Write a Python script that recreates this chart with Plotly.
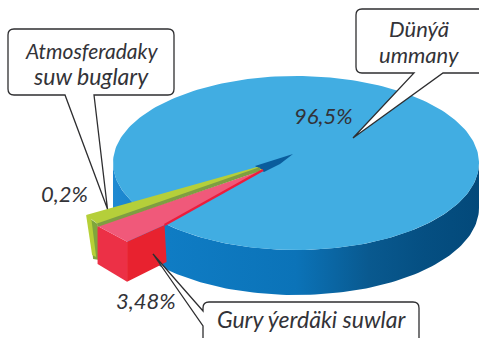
import math
import plotly.graph_objects as go

# ---- data ----
category_labels = ["Dünýä ummany", "Gury ýerdäki suwlar", "Atmosferadaky suw buglary"]
shares = [96.5, 3.48, 0.2]
share_labels = ["96,5%", "3,48%", "0,2%"]

# ---- pie projection / styling ----
W, H = 479, 338
CX, CY, RX, RY, DEPTH = 296, 163, 183, 87, 45
SLICE_END_DEG = 135          # where the ocean slice ends
RED_APEX = (263, 170)
GREEN_APEX = (257, 167)
RED_END_DEG = 132
PIECE_R = 1.11
PIECE_DEPTH = 40
MIN_SLICE_DEG = 6.4
FONT = "Lato"
TXT = "#333338"


def pt(c, deg, r=1.0, dy=0):
    a = math.radians(deg)
    return (c[0] + r * RX * math.cos(a), c[1] + r * RY * math.sin(a) + dy)


def arc(c, d0, d1, n=120, r=1.0, dy=0):
    return [pt(c, d0 + (d1 - d0) * i / n, r, dy) for i in range(n + 1)]


def poly(points, color, name, **kw):
    xs = [p[0] for p in points] + [points[0][0]]
    ys = [p[1] for p in points] + [points[0][1]]
    return go.Scatter(x=xs, y=ys, mode="lines", fill="toself", fillcolor=color,
                      line=dict(width=0, color=color), name=name, hoverinfo="name", **kw)


def seg(a, b, color, width, name):
    return go.Scatter(x=[a[0], b[0]], y=[a[1], b[1]], mode="lines",
                      line=dict(color=color, width=width), name=name, hoverinfo="skip")


C = (CX, CY)
fig = go.Figure()

# ocean wall with gradient
wall = arc(C, 0, 180) + arc(C, 180, 0, dy=DEPTH)
fig.add_trace(go.Scatter(
    x=[p[0] for p in wall] + [wall[0][0]], y=[p[1] for p in wall] + [wall[0][1]],
    mode="lines", line=dict(width=0), fill="toself", name=category_labels[0], hoverinfo="skip",
    fillgradient=dict(type="horizontal", colorscale=[
        [0.0, "#1F8AD2"], [0.15, "#0F7CC4"], [0.5, "#0B73B8"],
        [0.7, "#09598F"], [0.85, "#054F82"], [1.0, "#03497A"]]),
))

# ocean top face
ocean_span = shares[0] * 3.6
ocean_top = arc(C, SLICE_END_DEG + 360 - ocean_span, SLICE_END_DEG + 360, n=240) + [(RED_APEX[0] - 3, RED_APEX[1] - 1)]
fig.add_trace(poly(ocean_top, "#41ADE2", category_labels[0]))
# dark notch: inner wall seen through the opening of the slice
fig.add_trace(poly([(CX - 3, CY - 9), (GREEN_APEX[0] - 2, GREEN_APEX[1] - 1),
                    (RED_APEX[0] + 1, RED_APEX[1] + 2), (RED_APEX[0] + 17, RED_APEX[1] - 6)],
                   "#0A5C9C", "notch"))

# green slice
g0 = 149.4
g1 = g0 - max(shares[2] * 3.6, MIN_SLICE_DEG)
G1 = pt(GREEN_APEX, g0, 1.085)
G2 = pt(GREEN_APEX, g1, 1.09)
fig.add_trace(poly([G2, (G2[0] + 2, G2[1] + PIECE_DEPTH - 4), (G1[0] + 7, G1[1] + PIECE_DEPTH + 4), (G1[0] + 3, G1[1] + 3)],
                   "#7FA63C", category_labels[2]))
fig.add_trace(poly([G1, (G1[0] + 5, G1[1] + 2), (G1[0] + 10, G1[1] + PIECE_DEPTH + 2), (G1[0] + 6, G1[1] + PIECE_DEPTH)],
                   "#B6D037", category_labels[2]))
fig.add_trace(poly([GREEN_APEX, G1, G2, RED_APEX], "#B5CF3A", category_labels[2]))

# red slice
r_start = RED_END_DEG + shares[1] * 3.6
R1 = pt(RED_APEX, r_start, PIECE_R)
R2 = pt(RED_APEX, RED_END_DEG, PIECE_R)
R3 = pt(RED_APEX, RED_END_DEG - 1.6, 0.83)
d = PIECE_DEPTH
fig.add_trace(poly([R1, R2, (R2[0], R2[1] + d), (R1[0], R1[1] + d - 2)], "#EC3046", category_labels[1]))
fig.add_trace(poly([R2, R3, (R3[0] + 2, R3[1] + d - 3), (R2[0], R2[1] + d)], "#E8222F", category_labels[1]))
fig.add_trace(poly([RED_APEX, R1, R2, R3], "#F0597A", category_labels[1]))
fig.add_trace(seg((RED_APEX[0] - 3, RED_APEX[1] - 1), (R1[0], R1[1] - 1), "#7E9E42", 3.5, "edge"))
fig.add_trace(seg(RED_APEX, R3, "#EC1C3C", 2.5, "edge"))


def callout(x0, y0, x1, y1, tail_a, tip, tail_b, side="bottom", rad=6):
    if side == "bottom":
        return (f"M{x0+rad},{y0} L{x1-rad},{y0} Q{x1},{y0} {x1},{y0+rad} L{x1},{y1-rad} Q{x1},{y1} {x1-rad},{y1} "
                f"L{tail_b},{y1} L{tip[0]},{tip[1]} L{tail_a},{y1} L{x0+rad},{y1} Q{x0},{y1} {x0},{y1-rad} "
                f"L{x0},{y0+rad} Q{x0},{y0} {x0+rad},{y0} Z")
    return (f"M{x0+rad},{y0} L{x1-rad},{y0} Q{x1},{y0} {x1},{y0+rad} L{x1},{y1} L{x0},{y1} "
            f"L{x0},{tail_b} L{tip[0]},{tip[1]} L{x0},{tail_a} L{x0},{y0+rad} Q{x0},{y0} {x0+rad},{y0} Z")


paths = [
    callout(8, 29, 174, 95, 65, (107.5, 209), 94),
    callout(356, 9, 492, 73, 414, (353, 138), 443),
    callout(203, 302, 419, 360, 311, (153, 254), 326, side="left"),
]
shapes = [dict(type="path", path=p, xref="x", yref="y", fillcolor="white",
               line=dict(color="#2E2E30", width=1.3), layer="above") for p in paths]


def note(text, x, y, size=22):
    return dict(text=text, x=x, y=y, xref="x", yref="y", showarrow=False, align="center",
                font=dict(family=FONT, size=size, color=TXT, style="italic"))


annotations = [
    note("Atmosferadaky", 91, 50, 21),
    note("suw buglary", 91, 76, 23),
    note("Dünýä", 419, 28),
    note("ummany", 419, 54),
    note("Gury ýerdäki suwlar", 311, 319, 23),
    note(share_labels[0], 323, 115),
    note(share_labels[1], 146, 300),
    note(share_labels[2], 64, 193),
]

fig.update_layout(
    width=W, height=H, margin=dict(l=0, r=0, t=0, b=0), showlegend=False,
    paper_bgcolor="white", plot_bgcolor="white", shapes=shapes, annotations=annotations,
    xaxis=dict(range=[0, W], visible=False, fixedrange=True),
    yaxis=dict(range=[H, 0], visible=False, fixedrange=True),
)
fig.write_html("out.html", config=dict(displayModeBar=False),
               post_script="document.body.style.margin='0';document.body.style.overflow='hidden';")
